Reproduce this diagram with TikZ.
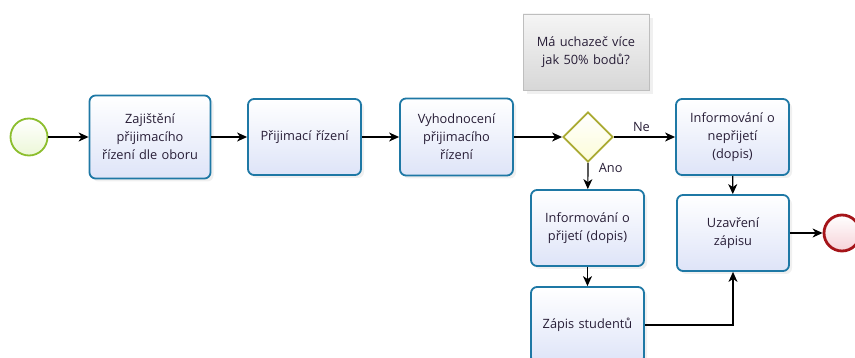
\documentclass[tikz,border=0pt]{standalone}
\usepackage{fontspec}
\setmainfont{Open Sans}
\usetikzlibrary{arrows.meta,shapes.geometric,shadows}
\definecolor{taskblue}{RGB}{30,120,165}
\definecolor{taskfill}{RGB}{222,228,248}
\definecolor{txt}{RGB}{40,30,55}
\definecolor{gwline}{RGB}{170,170,50}
\definecolor{gwfill}{RGB}{252,252,215}
\definecolor{stline}{RGB}{140,190,45}
\definecolor{stfill}{RGB}{236,247,215}
\definecolor{enline}{RGB}{165,20,25}
\definecolor{enfill}{RGB}{246,210,216}
\begin{document}
\begin{tikzpicture}[x=1pt,y=-1pt,
  every node/.style={font=\fontsize{12.8}{18}\selectfont, text=txt},
  task/.style={draw=taskblue, line width=1.8pt, rounded corners=6pt,
    top color=white, bottom color=taskfill, align=center, inner sep=2pt,
    drop shadow={shadow xshift=3pt, shadow yshift=-3pt, opacity=0.12}},
  gate/.style={diamond, draw=gwline, line width=1.8pt, top color=white, bottom color=gwfill,
    minimum width=50pt, minimum height=50pt, inner sep=0pt, aspect=1},
  flow/.style={draw=black, line width=1.2pt, -{Stealth[length=10pt,width=9pt,inset=3pt]}},
  annot/.style={draw={rgb,255:red,190;green,190;blue,190}, line width=0.8pt,
    top color={rgb,255:red,245;green,245;blue,245}, bottom color={rgb,255:red,215;green,215;blue,215},
    align=center, drop shadow={shadow xshift=4pt, shadow yshift=-4pt, opacity=0.12}},
  flowlbl/.style={font=\fontsize{12.8}{14}\selectfont}
]
\useasboundingbox (0,0) rectangle (855,358);
\begin{scope}
\clip (0,0) rectangle (855,358);
\node[circle, draw=stline, line width=1.8pt, top color=white, bottom color=stfill,
  minimum size=37pt, inner sep=0pt] (start) at (29,137) {};
\node[task, minimum width=121pt, minimum height=83pt, text width=116pt] (t1) at (150,137)
  {Zajištění\\přijimacího\\řízení dle oboru};
\node[task, minimum width=113pt, minimum height=76pt, text width=108pt] (t2) at (304.5,137)
  {Přijimací řízení};
\node[task, minimum width=113pt, minimum height=77pt, text width=108pt] (t3) at (456.5,137)
  {Vyhodnocení\\přijimacího\\řízení};
\node[gate] (gw) at (588,137) {};
\node[annot, minimum width=126pt, minimum height=76pt, text width=118pt] (note) at (586,52)
  {Má uchazeč více\\jak 50\% bodů?};
\node[task, minimum width=113pt, minimum height=76pt, text width=108pt] (nep) at (732.5,137)
  {Informování o\\nepřijetí\\(dopis)};
\node[task, minimum width=113pt, minimum height=76pt, text width=108pt] (prij) at (587.5,228)
  {Informování o\\přijetí (dopis)};
\node[task, minimum width=113pt, minimum height=76pt, text width=108pt] (zapis) at (587.5,325)
  {Zápis studentů};
\node[task, minimum width=112pt, minimum height=76pt, text width=106pt] (uzav) at (733,233)
  {Uzavření\\zápisu};
\node[circle, draw=enline, line width=2.8pt, top color=white, bottom color=enfill,
  minimum size=36pt, inner sep=0pt] (end) at (842,233) {};

\draw[flow] (start) -- (t1);
\draw[flow] (t1) -- (t2);
\draw[flow] (t2) -- (t3);
\draw[flow] (t3) -- (gw);
\draw[flow] (gw.east) -- node[flowlbl, above=1pt, pos=0.45] {Ne} (nep.west |- gw.east);
\draw[flow] (gw.south) -- node[flowlbl, right=7pt, pos=0.2] {Ano} (prij);
\draw[flow] (nep) -- (uzav);
\draw[flow] (prij) -- (zapis);
\draw[flow] (zapis.east) -| (uzav.south);
\draw[flow] (uzav) -- (end);
\end{scope}
\end{tikzpicture}
\end{document}
